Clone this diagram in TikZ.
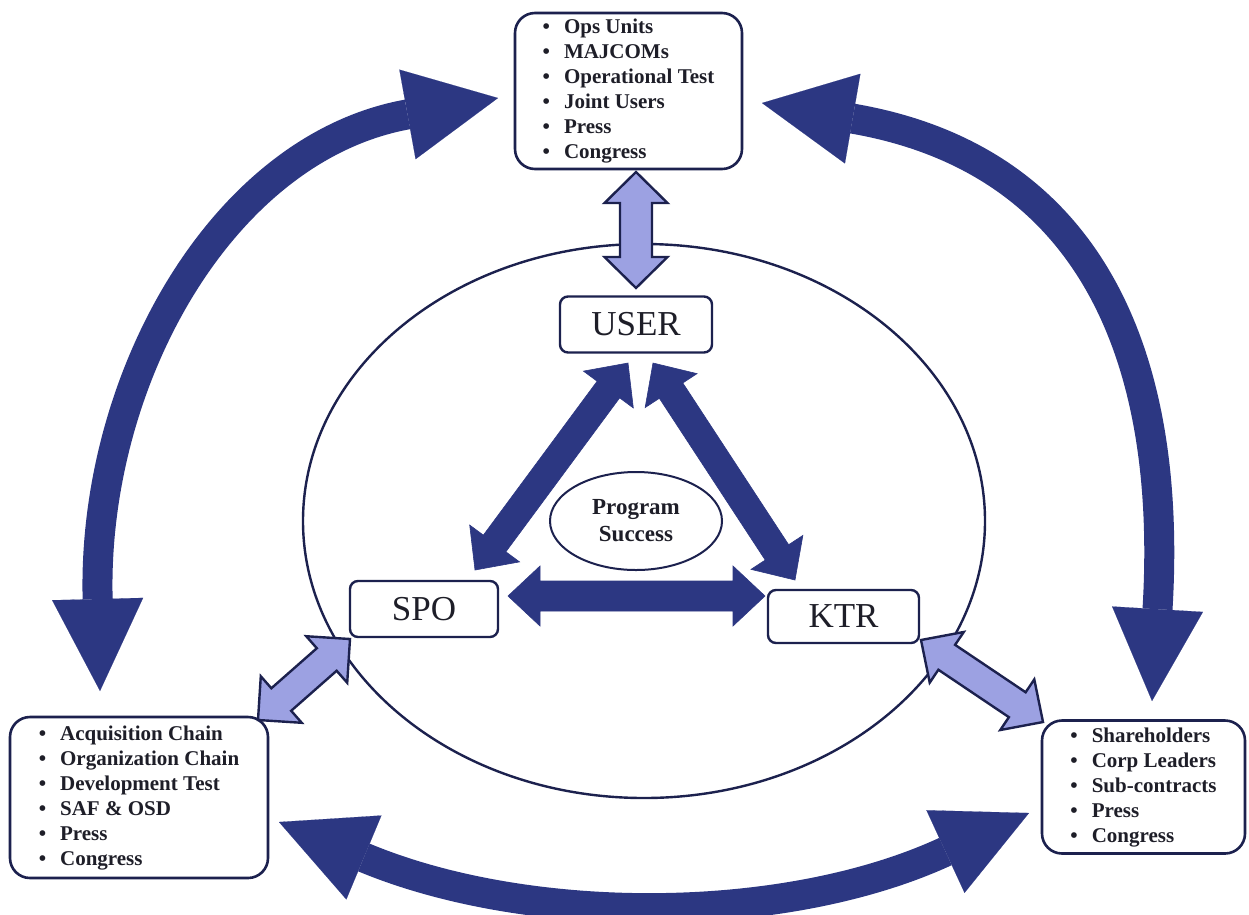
\documentclass[tikz,border=0pt]{standalone}
\usepackage{fontspec}
\setmainfont{Liberation Serif}
\usetikzlibrary{arrows.meta,calc,shapes.geometric}
\definecolor{navy}{RGB}{44,55,130}
\definecolor{lilac}{RGB}{156,161,226}
\definecolor{edge}{RGB}{28,33,78}
\definecolor{ink}{RGB}{30,30,40}

% two-headed block arrow as a polygon between two points
% #1 style, #2 tip A, #3 tip B, #4 shaft half width, #5 head half width, #6 head length
\newcommand{\twoway}[6]{%
  \path ($(#2)!#6!(#3)$) coordinate (hA) ($(#3)!#6!(#2)$) coordinate (hB);
  \draw[#1] (#2) -- ($(hA)!#5!90:(#3)$) -- ($(hA)!#4!90:(#3)$)
    -- ($(hB)!#4!-90:(#2)$) -- ($(hB)!#5!-90:(#2)$) -- (#3)
    -- ($(hB)!#5!90:(#2)$) -- ($(hB)!#4!90:(#2)$)
    -- ($(hA)!#4!-90:(#3)$) -- ($(hA)!#5!-90:(#3)$) -- cycle;
}
\newcommand{\bulletrows}[1]{\begin{tabular}{@{}l@{\hspace{14pt}}l@{}}#1\end{tabular}}

\begin{document}
\begin{tikzpicture}[x=1pt,y=-1pt,
  listbox/.style={draw=edge, line width=2.6pt, rounded corners=20pt, fill=white,
    inner sep=0pt, text=ink, font=\bfseries\fontsize{21}{25}\selectfont},
  corebox/.style={draw=edge, line width=2.4pt, rounded corners=8pt, fill=white,
    inner sep=0pt, text=ink, font=\fontsize{35}{35}\selectfont},
  bigarc/.style={draw=navy, line width=30pt,
    {Triangle[length=92pt,width=91pt,line width=0.1pt]}-{Triangle[length=92pt,width=91pt,line width=0.1pt]}},
  darkarrow/.style={fill=navy, draw=navy, line width=0.6pt, line join=miter},
  lightarrow/.style={fill=lilac, draw=edge, line width=2.4pt, line join=miter},
]
\useasboundingbox (0,0) rectangle (1249,914);
\fill[white] (0,0) rectangle (1249,914);

% outer ring around the core triangle
\draw[edge, line width=2.4pt] (644,521) ellipse [x radius=341pt, y radius=277pt];

% stakeholder boxes
\node[listbox, minimum width=227pt, minimum height=156pt] (topbox) at (628.5,91) {\bulletrows{%
  \textbullet & Ops Units\\
  \textbullet & MAJCOMs\\
  \textbullet & Operational Test\\
  \textbullet & Joint Users\\
  \textbullet & Press\\
  \textbullet & Congress}};
\node[listbox, minimum width=258pt, minimum height=161pt] (leftbox) at (139,797.5) {\bulletrows{%
  \textbullet & Acquisition Chain\\
  \textbullet & Organization Chain\\
  \textbullet & Development Test\\
  \textbullet & SAF \& OSD\\
  \textbullet & Press\\
  \textbullet & Congress}};
\node[listbox, minimum width=203pt, minimum height=133pt] (rightbox) at (1143.5,787) {\bulletrows{%
  \textbullet & Shareholders\\
  \textbullet & Corp Leaders\\
  \textbullet & Sub-contracts\\
  \textbullet & Press\\
  \textbullet & Congress}};

% core parties
\node[corebox, minimum width=152pt, minimum height=56pt] (user) at (636,324.5) {USER};
\node[corebox, minimum width=148pt, minimum height=56pt] (spo) at (424,609) {SPO};
\node[corebox, minimum width=151pt, minimum height=53pt] (ktr) at (843.5,616.5) {KTR};
\node[ellipse, draw=edge, line width=2pt, fill=white, minimum width=172pt, minimum height=98pt,
  inner sep=0pt, align=center, text=ink, font=\bfseries\fontsize{23}{27}\selectfont]
  (goal) at (636,521) {Program\\Success};

% arrow end points
\coordinate (uTop) at (636,172);   \coordinate (uBot) at (636,288);
\coordinate (sOut) at (258,720);   \coordinate (sIn)  at (350,639);
\coordinate (kIn)  at (921,640);   \coordinate (kOut) at (1043,722);
\coordinate (usA)  at (628,363);   \coordinate (usB)  at (475,570);
\coordinate (ukA)  at (653,363);   \coordinate (ukB)  at (795,580);
\coordinate (skA)  at (508,596);   \coordinate (skB)  at (765,596);
\coordinate (lA) at (100,691);     \coordinate (lB) at (498,98);
\coordinate (rA) at (762,103);     \coordinate (rB) at (1152,701);
\coordinate (bA) at (279,822);     \coordinate (bB) at (1029,813);

% links from the outer groups to the core parties
\twoway{lightarrow}{uTop}{uBot}{16pt}{31.5pt}{31pt}
\twoway{lightarrow}{sIn}{sOut}{15pt}{31pt}{31pt}
\twoway{lightarrow}{kIn}{kOut}{15pt}{30.5pt}{31pt}

% links between the core parties
\twoway{darkarrow}{usA}{usB}{14pt}{31pt}{33pt}
\twoway{darkarrow}{ukA}{ukB}{14pt}{31pt}{33pt}
\twoway{darkarrow}{skA}{skB}{15pt}{30pt}{32pt}

% links between the outer groups
\draw[bigarc] (lA) .. controls (92,380) and (222,148) .. (lB);
\draw[bigarc] (rA) .. controls (1087,159) and (1173,351) .. (rB);
\draw[bigarc] (bA) .. controls (528,926) and (784,926) .. (bB);
\end{tikzpicture}
\end{document}
